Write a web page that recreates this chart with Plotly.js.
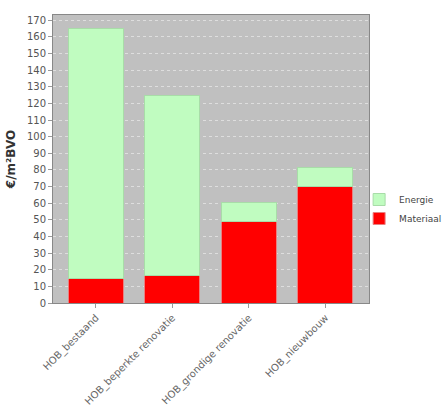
<!DOCTYPE html>
<html>
<head>
<meta charset="utf-8">
<script src="https://cdn.plot.ly/plotly-3.0.1.min.js"></script>
<style>html,body{margin:0;padding:0;background:#fff;}#chart{width:445px;height:418px;}</style>
</head>
<body>
<div id="chart"></div>
<script>
const categories = ["HOB_bestaand", "HOB_beperkte renovatie", "HOB_grondige renovatie", "HOB_nieuwbouw"];
const materiaal = [14.5, 16.5, 49, 70];
const energie = [150.5, 108.5, 11.5, 11.5];
const yTickVals = [0,10,20,30,40,50,60,70,80,90,100,110,120,130,140,150,160,170];

const traces = [
  {type: "bar", name: "Materiaal", x: categories, y: materiaal,
   marker: {color: "#ff0000", line: {color: "#e88080", width: 1}}, width: 0.72},
  {type: "bar", name: "Energie", x: categories, y: energie,
   marker: {color: "#c0fcc0", line: {color: "#a8dca8", width: 1}}, width: 0.72}
];

const font = {family: "DejaVu Sans, sans-serif", size: 10, color: "#555"};

const layout = {
  width: 445, height: 418,
  margin: {l: 53, r: 76, t: 15, b: 115, autoexpand: false},
  barmode: "stack",
  paper_bgcolor: "#ffffff",
  plot_bgcolor: "#c0c0c0",
  font: font,
  showlegend: true,
  legend: {xref: "container", yref: "container", x: 0.807, y: 0.5, xanchor: "left", yanchor: "middle",
           traceorder: "reversed",
           font: {family: "DejaVu Sans, sans-serif", size: 9, color: "#444"},
           bgcolor: "rgba(0,0,0,0)", itemwidth: 30, tracegroupgap: 0},
  xaxis: {
    type: "category", range: [-0.56, 3.57], tickangle: -45,
    showgrid: false, ticks: "outside", ticklen: 4, tickcolor: "#999",
    showline: true, linecolor: "#888", linewidth: 1, mirror: true,
    tickfont: {family: "DejaVu Sans, sans-serif", size: 10, color: "#666"}
  },
  yaxis: {
    range: [0, 173.2], tickvals: yTickVals, ticks: "outside", ticklen: 4, tickcolor: "#999",
    showgrid: true, gridcolor: "#dedede", griddash: "dot", gridwidth: 1,
    zeroline: false,
    showline: true, linecolor: "#888", linewidth: 1, mirror: true,
    tickfont: {family: "DejaVu Sans, sans-serif", size: 10, color: "#555"},
    title: {text: "€/m²BVO", font: {family: "DejaVu Sans, sans-serif", size: 12, color: "#333", weight: "bold"}, standoff: 8}
  }
};

Plotly.newPlot("chart", traces, layout, {displayModeBar: false, staticPlot: true});
</script>
</body>
</html>
